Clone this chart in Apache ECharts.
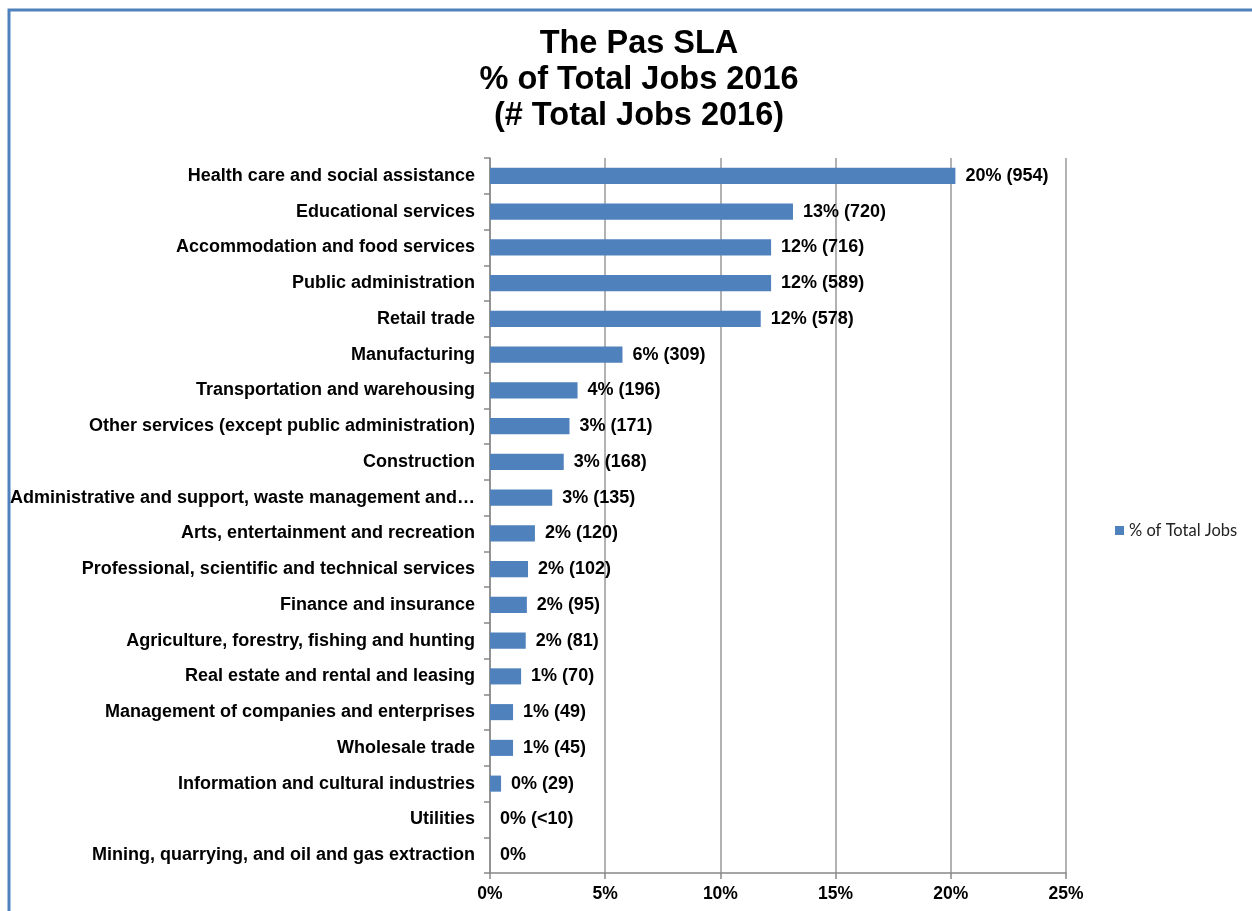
<!DOCTYPE html>
<html>
<head>
<meta charset="utf-8">
<script src="https://cdn.jsdelivr.net/npm/echarts@6/dist/echarts.min.js"></script>
<style>html,body{margin:0;padding:0;background:#fff;}#chart{width:1252px;height:911px;}</style>
</head>
<body>
<div id="chart"></div>
<script>
const categories = [
  "Health care and social assistance",
  "Educational services",
  "Accommodation and food services",
  "Public administration",
  "Retail trade",
  "Manufacturing",
  "Transportation and warehousing",
  "Other services (except public administration)",
  "Construction",
  "Administrative and support, waste management and remediation services",
  "Arts, entertainment and recreation",
  "Professional, scientific and technical services",
  "Finance and insurance",
  "Agriculture, forestry, fishing and hunting",
  "Real estate and rental and leasing",
  "Management of companies and enterprises",
  "Wholesale trade",
  "Information and cultural industries",
  "Utilities",
  "Mining, quarrying, and oil and gas extraction"
];
const pctValues = [20.2, 13.15, 12.2, 12.2, 11.75, 5.75, 3.8, 3.45, 3.2, 2.7, 1.95, 1.65, 1.6, 1.55, 1.35, 1.0, 1.0, 0.48, 0, 0];
const pctLabels = ["20%", "13%", "12%", "12%", "12%", "6%", "4%", "3%", "3%", "3%", "2%", "2%", "2%", "2%", "1%", "1%", "1%", "0%", "0%", "0%"];
const jobCounts = ["954", "720", "716", "589", "578", "309", "196", "171", "168", "135", "120", "102", "95", "81", "70", "49", "45", "29", "<10", ""];
const xTicks = [0, 5, 10, 15, 20, 25];
const titleLines = ["The Pas SLA", "% of Total Jobs 2016", "(# Total Jobs 2016)"];
const seriesName = "% of Total Jobs";

const chart = echarts.init(document.getElementById('chart'), null, {renderer: 'canvas'});
const labelFont = 'Liberation Sans, Arial, sans-serif';

function truncate(s) {
  return s.length > 55 ? s.slice(0, 48) + '…' : s;
}

chart.setOption({
  animation: false,
  backgroundColor: '#fff',
  graphic: [{
    type: 'rect',
    shape: {x: 9, y: 10, width: 1400, height: 1000},
    style: {fill: null, stroke: '#4f81bd', lineWidth: 3},
    silent: true
  }],
  title: {
    text: titleLines.join('\n'),
    left: 634,
    textAlign: 'center',
    top: 21,
    textStyle: {fontFamily: labelFont, fontWeight: 'bold', fontSize: 32.5, lineHeight: 36, color: '#000'}
  },
  legend: {
    data: [seriesName],
    orient: 'vertical',
    left: 1110,
    top: 517,
    itemWidth: 9,
    itemHeight: 9,
    itemGap: 4,
    icon: 'rect',
    textStyle: {fontFamily: 'Lato, sans-serif', fontSize: 16.5, color: '#222'}
  },
  grid: {left: 490, right: 186, top: 158, bottom: 38, containLabel: false},
  xAxis: {
    type: 'value',
    min: 0, max: 25, interval: 5,
    axisLine: {show: true, lineStyle: {color: '#888', width: 1.5}},
    axisTick: {show: true, length: 6, lineStyle: {color: '#888', width: 1.5}},
    splitLine: {show: true, lineStyle: {color: '#999', width: 1.5}},
    axisLabel: {
      formatter: v => xTicks.includes(v) ? v + '%' : '',
      fontFamily: labelFont, fontWeight: 'bold', fontSize: 17.5, color: '#000', margin: 12
    }
  },
  yAxis: {
    type: 'category',
    inverse: true,
    data: categories,
    axisLine: {show: true, lineStyle: {color: '#888', width: 1.5}},
    axisTick: {show: true, length: 6, lineStyle: {color: '#888', width: 1.5}},
    axisLabel: {
      formatter: v => truncate(v),
      fontFamily: labelFont, fontWeight: 'bold', fontSize: 18, color: '#000', margin: 15
    }
  },
  series: [{
    name: seriesName,
    type: 'bar',
    data: pctValues,
    barCategoryGap: '55%',
    itemStyle: {color: '#4f81bd'},
    label: {
      show: true,
      position: 'right',
      distance: 10,
      fontFamily: labelFont, fontWeight: 'bold', fontSize: 18, color: '#000',
      formatter: p => jobCounts[p.dataIndex] ? pctLabels[p.dataIndex] + ' (' + jobCounts[p.dataIndex] + ')' : pctLabels[p.dataIndex]
    }
  }]
});
</script>
</body>
</html>
